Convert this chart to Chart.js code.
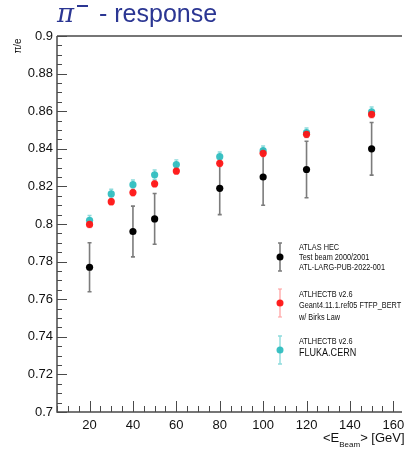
<!DOCTYPE html>
<html>
<head>
<meta charset="utf-8">
<script src="https://cdn.jsdelivr.net/npm/chart.js@4.4.0/dist/chart.umd.min.js"></script>
<style>
  html, body { margin: 0; padding: 0; background: #fff; }
  #wrap { width: 406px; height: 449px; position: relative; }
</style>
</head>
<body>
<div id="wrap"><canvas id="c" width="406" height="449"></canvas></div>
<script>
// beam energies (GeV)
const simEnergies = [20, 30, 40, 50, 60, 80, 100, 120, 150]
const hecEnergies = [20, 40, 50, 80, 100, 120, 150]

// pi/e response
const hecResp = [0.777, 0.796, 0.8027, 0.819, 0.825, 0.829, 0.840]
const hecErr = [0.013, 0.0135, 0.0135, 0.014, 0.015, 0.015, 0.014]
const geantResp = [0.7998, 0.8119, 0.8167, 0.8214, 0.8282, 0.8323, 0.8376, 0.8477, 0.8583]
const geantErr = [0.0018, 0.0018, 0.0018, 0.0018, 0.0018, 0.0018, 0.0018, 0.0018, 0.0018]
const flukaResp = [0.802, 0.816, 0.8209, 0.8262, 0.8316, 0.8358, 0.839, 0.8486, 0.8597]
const flukaErr = [0.0025, 0.0025, 0.0025, 0.0025, 0.0025, 0.0025, 0.0025, 0.0025, 0.0025]

// axis ticks
const xTicks = [20, 40, 60, 80, 100, 120, 140, 160]
const yTicks = [0.7, 0.72, 0.74, 0.76, 0.78, 0.8, 0.82, 0.84, 0.86, 0.88, 0.9]

const legendLines = [
    ["ATLAS HEC", "Test beam 2000/2001", "ATL-LARG-PUB-2022-001"],
    ["ATLHECTB v2.6", "Geant4.11.1.ref05 FTFP_BERT", "w/ Birks Law"],
    ["ATLHECTB v2.6", "FLUKA.CERN"],
]

const toPoints = (xs, ys, errs) => xs.map((x, i) => ({ x: x, y: ys[i], err: errs[i] }))

const FONT = '"Liberation Sans", Arial, sans-serif'
const AXIS = '#4a4a4a'

const errorBars = {
    id: 'errorBars',
    beforeDatasetsDraw(chart) {
        const ctx = chart.ctx
        const xs = chart.scales.x, ys = chart.scales.y
        chart.data.datasets.forEach(ds => {
            ctx.save()
            ctx.strokeStyle = ds.errColor
            ctx.lineWidth = ds.errWidth
            for (const p of ds.data) {
                const px = xs.getPixelForValue(p.x)
                const top = ys.getPixelForValue(p.y + p.err)
                const bot = ys.getPixelForValue(p.y - p.err)
                ctx.beginPath()
                ctx.moveTo(px, top); ctx.lineTo(px, bot)
                ctx.moveTo(px - 2, top); ctx.lineTo(px + 2, top)
                ctx.moveTo(px - 2, bot); ctx.lineTo(px + 2, bot)
                ctx.stroke()
            }
            ctx.restore()
        })
    }
}

const frame = {
    id: 'frame',
    afterDraw(chart) {
        const ctx = chart.ctx
        const a = chart.chartArea
        const xs = chart.scales.x, ys = chart.scales.y
        ctx.save()
        ctx.strokeStyle = AXIS
        ctx.lineWidth = 1.5
        ctx.beginPath()
        ctx.moveTo(a.left, a.top); ctx.lineTo(a.left, a.bottom); ctx.lineTo(a.right, a.bottom)
        ctx.moveTo(a.left, a.top); ctx.lineTo(a.right, a.top)
        ctx.stroke()

        // y ticks (inward), minor every 0.005
        ctx.lineWidth = 1
        for (let k = 0; k <= 40; k++) {
            const v = 0.7 + k * 0.005
            const py = Math.round(ys.getPixelForValue(v)) + 0.5
            const len = k % 4 === 0 ? 10 : 5
            ctx.beginPath(); ctx.moveTo(a.left, py); ctx.lineTo(a.left + len, py); ctx.stroke()
        }
        // x ticks (inward), minor every 5
        for (let v = 5; v <= 164; v += 5) {
            const px = Math.round(xs.getPixelForValue(v)) + 0.5
            const len = v % 20 === 0 ? 11 : 6
            ctx.beginPath(); ctx.moveTo(px, a.bottom); ctx.lineTo(px, a.bottom - len); ctx.stroke()
        }

        // tick labels
        ctx.fillStyle = '#111'
        ctx.font = '13px ' + FONT
        ctx.textAlign = 'right'
        ctx.textBaseline = 'middle'
        for (const v of yTicks) {
            ctx.fillText(String(Number(v.toFixed(2))), a.left - 4, ys.getPixelForValue(v))
        }
        ctx.textAlign = 'center'
        ctx.textBaseline = 'alphabetic'
        for (const v of xTicks) {
            ctx.fillText(String(v), xs.getPixelForValue(v), a.bottom + 17)
        }

        // axis titles
        ctx.textAlign = 'left'
        ctx.font = '13px ' + FONT
        ctx.fillText('<E', 323, 442)
        let w = ctx.measureText('<E').width
        ctx.font = '8px ' + FONT
        ctx.fillText('Beam', 323 + w, 447)
        w += ctx.measureText('Beam').width
        ctx.font = '13px ' + FONT
        ctx.fillText('> [GeV]', 323 + w, 442)

        ctx.save()
        ctx.translate(21, 46)
        ctx.rotate(-Math.PI / 2)
        ctx.font = '10px ' + FONT
        ctx.textAlign = 'center'
        ctx.fillText('\u03c0/e', 0, 0)
        ctx.restore()

        // title
        ctx.fillStyle = '#2b3693'
        ctx.font = 'italic 26px "DejaVu Serif", serif'
        ctx.fillText('\u03c0', 57, 22)
        ctx.fillRect(77, 5, 11, 2)
        ctx.font = '25px ' + FONT
        ctx.fillText('- response', 99, 22)

        // legend
        const dsets = chart.data.datasets
        const blocks = [
            { ds: dsets[0], y: 257, lines: [248, 258, 268], big: false },
            { ds: dsets[1], y: 303, lines: [295, 306, 318], big: false },
            { ds: dsets[2], y: 350, lines: [342, 353], big: true },
        ]
        blocks.forEach((b, i) => {
            ctx.strokeStyle = b.ds.errColor
            ctx.lineWidth = b.ds.errWidth
            ctx.beginPath()
            ctx.moveTo(280, b.y - 14); ctx.lineTo(280, b.y + 14)
            ctx.moveTo(278, b.y - 14); ctx.lineTo(282, b.y - 14)
            ctx.moveTo(278, b.y + 14); ctx.lineTo(282, b.y + 14)
            ctx.stroke()
            ctx.fillStyle = b.ds.backgroundColor
            ctx.beginPath(); ctx.arc(280, b.y, 3.5, 0, Math.PI * 2); ctx.fill()
            ctx.fillStyle = '#111'
            ctx.textBaseline = 'middle'
            legendLines[i].forEach((t, j) => {
                ctx.save()
                ctx.translate(299, b.lines[j])
                ctx.scale(0.86, 1)
                ctx.font = (b.big && j === 1 ? '10.5px ' : '8.5px ') + FONT
                ctx.fillText(t, 0, 0)
                ctx.restore()
            })
        })
        ctx.restore()
    }
}

new Chart(document.getElementById('c'), {
    type: 'scatter',
    data: {
        datasets: [
            {
                label: 'ATLAS HEC',
                data: toPoints(hecEnergies, hecResp, hecErr),
                backgroundColor: '#000000',
                errColor: 'rgba(110,110,110,0.9)',
                errWidth: 1.6,
            },
            {
                label: 'Geant4 FTFP_BERT',
                data: toPoints(simEnergies, geantResp, geantErr),
                backgroundColor: 'rgba(255,20,20,0.95)',
                errColor: 'rgba(255,90,90,0.6)',
                errWidth: 1.2,
            },
            {
                label: 'FLUKA.CERN',
                data: toPoints(simEnergies, flukaResp, flukaErr),
                backgroundColor: 'rgba(48,190,192,0.95)',
                errColor: 'rgba(48,190,192,0.55)',
                errWidth: 1.4,
            },
        ]
    },
    options: {
        responsive: false,
        animation: false,
        events: [],
        layout: { padding: { left: 57, top: 36, bottom: 37, right: 0 } },
        elements: { point: { radius: 3.6, borderWidth: 0, pointStyle: 'circle' } },
        plugins: { legend: { display: false }, tooltip: { enabled: false } },
        scales: {
            x: { type: 'linear', min: 5, max: 164, display: false },
            y: { type: 'linear', min: 0.7, max: 0.9, display: false },
        }
    },
    plugins: [errorBars, frame]
})
</script>
</body>
</html>
